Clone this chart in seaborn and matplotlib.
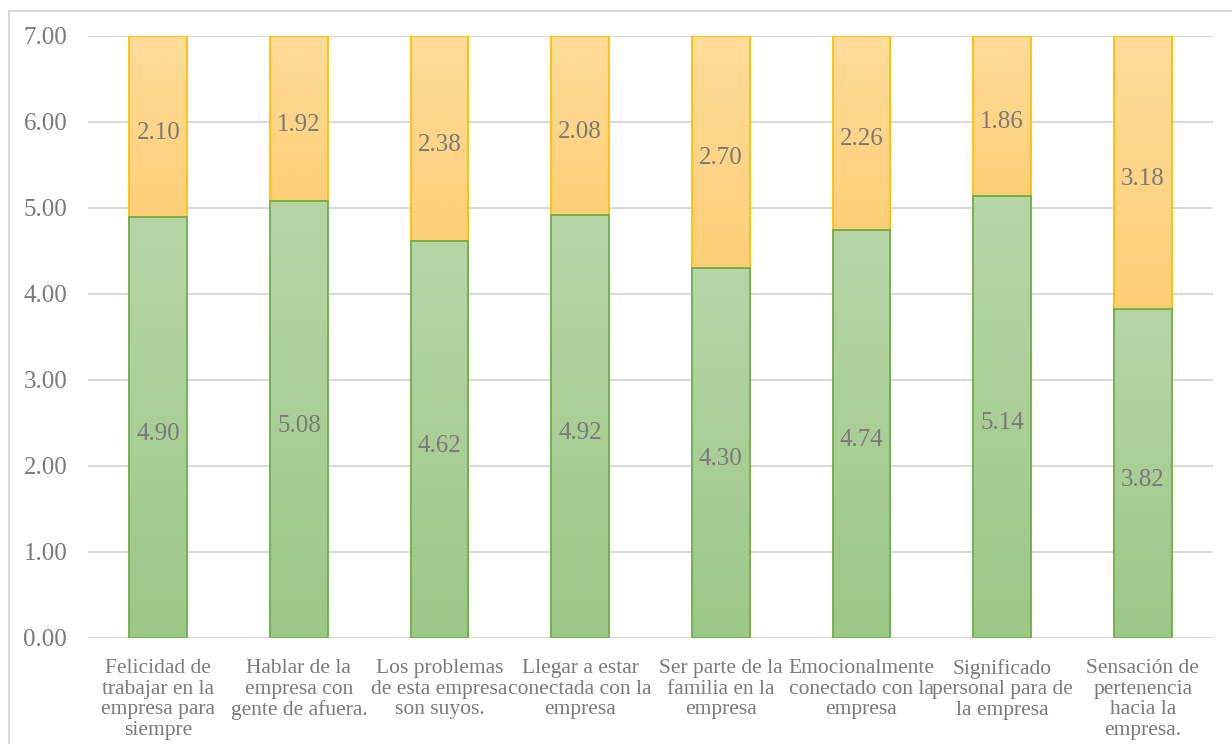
import numpy as np
import pandas as pd
import matplotlib
matplotlib.use("Agg")
import matplotlib.pyplot as plt
from matplotlib.colors import LinearSegmentedColormap
from matplotlib.patches import Rectangle
import seaborn as sns

categories = [
    "Felicidad de\ntrabajar en la\nempresa para\nsiempre",
    "Hablar de la\nempresa con\ngente de afuera.",
    "Los problemas\nde esta empresa\nson suyos.",
    "Llegar a estar\nconectada con la\nempresa",
    "Ser parte de la\nfamilia en la\nempresa",
    "Emocionalmente\nconectado con la\nempresa",
    "Significado\npersonal para de\nla empresa",
    "Sensación de\npertenencia\nhacia la\nempresa.",
]
green_values = [4.90, 5.08, 4.62, 4.92, 4.30, 4.74, 5.14, 3.82]
orange_values = [2.10, 1.92, 2.38, 2.08, 2.70, 2.26, 1.86, 3.18]
y_ticks = [0, 1, 2, 3, 4, 5, 6, 7]

GREEN_EDGE = "#70ad47"
ORANGE_EDGE = "#ffc000"
TEXT = "#7a7a7a"
GRID = "#d9d9d9"

sns.set_theme(style="white")
plt.rcParams["font.family"] = ["Liberation Serif", "DejaVu Serif"]

df = pd.DataFrame({
    "cat": categories,
    "green": green_values,
    "orange": orange_values,
})
df["total"] = df["green"] + df["orange"]

fig = plt.figure(figsize=(12.32, 7.44), dpi=100)
ax = fig.add_axes([88 / 1232, 1 - 638 / 744, (1213 - 88) / 1232, (638 - 36) / 744])

# outer frame of the chart area
fig.patches.append(Rectangle((9 / 1232, -0.05), 1.2, 1 - 11 / 744 + 0.05,
                             transform=fig.transFigure, fill=False,
                             edgecolor=GRID, linewidth=1.5, zorder=0))

sns.barplot(data=df, x="cat", y="total", color="#fed27e", width=0.41,
            edgecolor=ORANGE_EDGE, linewidth=1.3, saturation=1, ax=ax, zorder=3)
n = len(categories)
orange_patches = list(ax.patches[:n])
sns.barplot(data=df, x="cat", y="green", color="#a8cf96", width=0.41,
            edgecolor=GREEN_EDGE, linewidth=1.3, saturation=1, ax=ax, zorder=3)
green_patches = list(ax.patches[n:2 * n])

# orange segment sits on top of the green one
for p, g, o in zip(orange_patches, green_values, orange_values):
    p.set_y(g)
    p.set_height(o)

green_cmap = LinearSegmentedColormap.from_list("g", ["#9cc886", "#b6d6a8"])
orange_cmap = LinearSegmentedColormap.from_list("o", ["#fecf76", "#fedc9a"])
grad = np.linspace(0, 1, 256).reshape(-1, 1)

for patches, cmap in ((green_patches, green_cmap), (orange_patches, orange_cmap)):
    for p in patches:
        x0, y0 = p.get_x(), p.get_y()
        w, h = p.get_width(), p.get_height()
        im = ax.imshow(grad, cmap=cmap, origin="lower", aspect="auto",
                       extent=[x0, x0 + w, y0, y0 + h], zorder=2.5,
                       interpolation="bilinear")
        im.set_clip_path(p)
        p.set_facecolor("none")

ax.set_xlim(-0.5, n - 0.5)
ax.set_ylim(0, 7)
ax.set_yticks(y_ticks)
ax.set_yticklabels([f"{v:.2f}" for v in y_ticks])
ax.yaxis.grid(True, color=GRID, linewidth=1.5, zorder=0)
ax.set_axisbelow(True)
for s in ax.spines.values():
    s.set_visible(False)
ax.set_xlabel("")
ax.set_ylabel("")
ax.tick_params(axis="y", length=0, pad=15, labelsize=18, labelcolor=TEXT)
ax.tick_params(axis="x", length=0, pad=15, labelsize=15.5, labelcolor=TEXT)
for lbl in ax.get_xticklabels():
    lbl.set_linespacing(1.12)
    lbl.set_verticalalignment("top")

for i, (g, o) in enumerate(zip(green_values, orange_values)):
    ax.annotate(f"{g:.2f}", (i, g / 2), xytext=(0, -4.5), textcoords="offset points",
                ha="center", va="center", fontsize=18, color=TEXT, zorder=5)
    ax.annotate(f"{o:.2f}", (i, g + o / 2), xytext=(0, -4.5), textcoords="offset points",
                ha="center", va="center", fontsize=18, color=TEXT, zorder=5)

fig.savefig("out.png", dpi=100)
